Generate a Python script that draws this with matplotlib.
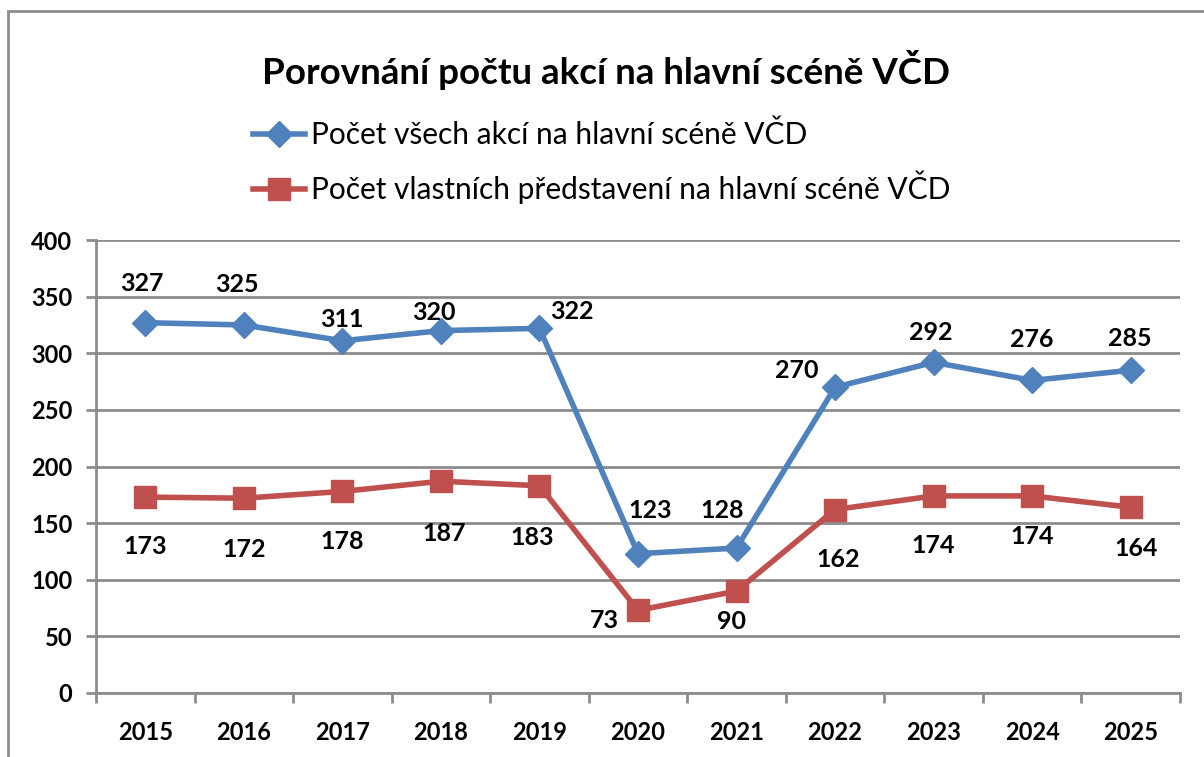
import matplotlib.pyplot as plt
from matplotlib.patches import Rectangle

years = ['2015', '2016', '2017', '2018', '2019', '2020', '2021', '2022', '2023', '2024', '2025']
vsechny_akce = [327, 325, 311, 320, 322, 123, 128, 270, 292, 276, 285]
vlastni_predstaveni = [173, 172, 178, 187, 183, 73, 90, 162, 174, 174, 164]

title = 'Porovnání počtu akcí na hlavní scéně VČD'
label_all = 'Počet všech akcí na hlavní scéně VČD'
label_own = 'Počet vlastních představení na hlavní scéně VČD'

# label offsets in pixels (dx, dy up)
off_all = [(-3, 39), (-7, 40), (0, 21), (-7, 18), (32, 17), (12, 43),
           (-14, 38), (-38, 17), (-3, 30), (0, 41), (-1, 32)]
off_own = [(0, -49), (0, -51), (0, -50), (3, -52), (-7, -52), (-34, -10),
           (-5, -30), (3, -50), (0, -50), (0, -41), (5, -41)]

plt.rcParams['font.family'] = ['Lato', 'DejaVu Sans']

blue = '#4F81BD'
red = '#C0504D'
grey = '#8C8C8C'

fig = plt.figure(figsize=(12.04, 7.57), dpi=100)
ax = fig.add_axes([96/1204, 1-693/757, (1180-96)/1204, (693-240)/757])

x = list(range(len(years)))
ax.plot(x, vsechny_akce, color=blue, lw=4, marker='D', ms=13, label=label_all, zorder=3)
ax.plot(x, vlastni_predstaveni, color=red, lw=4, marker='s', ms=16, label=label_own, zorder=3)

for i, v in enumerate(vsechny_akce):
    ax.annotate(str(v), (i, v), xytext=off_all[i], textcoords='offset pixels',
                ha='center', va='center', fontsize=18, fontweight='bold')
for i, v in enumerate(vlastni_predstaveni):
    ax.annotate(str(v), (i, v), xytext=off_own[i], textcoords='offset pixels',
                ha='center', va='center', fontsize=18, fontweight='bold')

ax.set_xlim(-0.5, len(years) - 0.5)
ax.set_ylim(0, 400)
ax.set_yticks(range(0, 401, 50))
ax.set_xticks(x)
ax.set_xticklabels(years)
ax.set_xticks([i - 0.5 for i in range(len(years) + 1)], minor=True)
ax.tick_params(axis='x', which='major', length=0, pad=20, labelsize=17)
ax.tick_params(axis='x', which='minor', length=7, width=2, color=grey)
ax.tick_params(axis='y', length=7, width=2, color=grey, pad=10, labelsize=17)
for lab in ax.get_xticklabels() + ax.get_yticklabels():
    lab.set_fontweight('bold')

ax.grid(axis='y', color=grey, lw=2)
ax.set_axisbelow(True)
for s in ['top', 'right']:
    ax.spines[s].set_visible(False)
for s in ['left', 'bottom']:
    ax.spines[s].set_color(grey)
    ax.spines[s].set_linewidth(2)

fig.text(606/1204, 1-70/757, title, ha='center', va='center', fontsize=26.5, fontweight='bold')

fig.legend(loc='upper left', bbox_to_anchor=(226/1204, 1-94/757), frameon=False,
           fontsize=21.5, handlelength=1.75, handletextpad=0.18, labelspacing=0.72)

fig.patches.append(Rectangle((8/1204, -0.1), 1.2, 1.1 - 11/757, transform=fig.transFigure,
                             fill=False, edgecolor=grey, lw=2))

fig.savefig('out.png', dpi=100)
